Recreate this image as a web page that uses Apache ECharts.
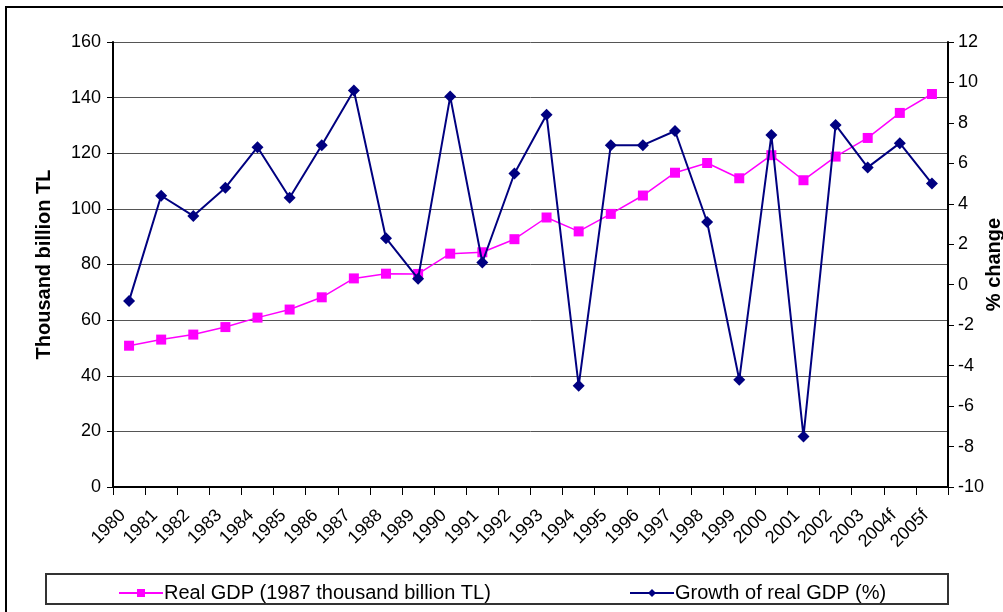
<!DOCTYPE html>
<html>
<head>
<meta charset="utf-8">
<script src="https://cdn.jsdelivr.net/npm/echarts@6/dist/echarts.min.js"></script>
<style>
  html, body { margin: 0; padding: 0; background: #fff; }
  #chart { width: 1003px; height: 612px; }
</style>
</head>
<body>
<div id="chart"></div>
<script>
var years = ['1980', '1981', '1982', '1983', '1984', '1985', '1986', '1987', '1988', '1989',
    '1990', '1991', '1992', '1993', '1994', '1995', '1996', '1997', '1998', '1999',
    '2000', '2001', '2002', '2003', '2004f', '2005f'];

// real GDP, 1987 thousand billion TL (left axis)
var realGdp = [50.8, 53.0, 54.8, 57.5, 60.9, 63.8, 68.2, 75.0, 76.7, 76.6,
    83.9, 84.4, 89.1, 96.9, 91.9, 98.2, 104.8, 113.0, 116.5, 111.0,
    119.3, 110.3, 118.8, 125.5, 134.5, 141.3];

// growth of real GDP, % (right axis)
var growth = [-0.8, 4.4, 3.4, 4.8, 6.8, 4.3, 6.9, 9.6, 2.3, 0.3,
    9.3, 1.1, 5.5, 8.4, -5.0, 6.9, 6.9, 7.6, 3.1, -4.7,
    7.4, -7.5, 7.9, 5.8, 7.0, 5.0];

var font = 'Liberation Sans, Arial, sans-serif';

var chart = echarts.init(document.getElementById('chart'), null, {renderer: 'canvas'});

chart.setOption({
    backgroundColor: '#fff',
    animation: false,
    textStyle: {fontFamily: font, color: '#000'},
    graphic: [
        {
            type: 'rect',
            shape: {x: 6, y: 7, width: 1010, height: 620},
            style: {fill: 'none', stroke: '#000', lineWidth: 2}
        },
        {
            type: 'rect',
            shape: {x: 46, y: 574, width: 902, height: 30},
            style: {fill: 'none', stroke: '#333', lineWidth: 2}
        }
    ],
    legend: [
        {
            data: ['Real GDP (1987 thousand billion TL)'],
            left: 113,
            top: 578,
            itemWidth: 44,
            itemHeight: 10,
            itemGap: 4,
            textStyle: {fontFamily: font, fontSize: 20, color: '#000', padding: [0, 0, 0, -4]}
        },
        {
            data: ['Growth of real GDP (%)'],
            left: 624,
            top: 578,
            itemWidth: 44,
            itemHeight: 10,
            textStyle: {fontFamily: font, fontSize: 20, color: '#000', padding: [0, 0, 0, -4]}
        }
    ],
    grid: {left: 113, right: 55, top: 42, bottom: 125, outerBoundsMode: 'none', containLabel: false},
    xAxis: {
        type: 'category',
        data: years,
        boundaryGap: true,
        axisLine: {lineStyle: {color: '#000', width: 2}},
        axisTick: {show: true, interval: 0, length: 8, lineStyle: {color: '#000'}},
        axisLabel: {
            interval: 0,
            rotate: 45,
            margin: 32,
            fontSize: 18,
            fontFamily: font,
            color: '#000',
            verticalAlign: 'bottom'
        }
    },
    yAxis: [
        {
            type: 'value',
            min: 0,
            max: 160,
            interval: 20,
            name: 'Thousand billion TL',
            nameLocation: 'middle',
            nameGap: 59,
            nameMoveOverlap: false,
            nameTextStyle: {fontFamily: font, fontSize: 20, fontWeight: 'bold', color: '#000'},
            axisLine: {show: true, lineStyle: {color: '#000', width: 2}},
            axisTick: {show: true, length: 6, lineStyle: {color: '#000'}},
            axisLabel: {fontSize: 18, fontFamily: font, color: '#000', margin: 12},
            splitLine: {show: true, lineStyle: {color: '#555', width: 1}}
        },
        {
            type: 'value',
            min: -10,
            max: 12,
            interval: 2,
            name: '% change',
            nameLocation: 'middle',
            nameGap: 36,
            nameMoveOverlap: false,
            nameTextStyle: {fontFamily: font, fontSize: 20, fontWeight: 'bold', color: '#000'},
            axisLine: {show: true, lineStyle: {color: '#000', width: 2}},
            axisTick: {show: true, length: 6, lineStyle: {color: '#000'}},
            axisLabel: {fontSize: 18, fontFamily: font, color: '#000', margin: 10},
            splitLine: {show: false}
        }
    ],
    series: [
        {
            name: 'Real GDP (1987 thousand billion TL)',
            type: 'line',
            yAxisIndex: 0,
            data: realGdp,
            color: '#ff00ff',
            symbol: 'rect',
            symbolSize: 10,
            lineStyle: {width: 1.5, color: '#ff00ff'},
            itemStyle: {color: '#ff00ff'},
            z: 2
        },
        {
            name: 'Growth of real GDP (%)',
            type: 'line',
            yAxisIndex: 1,
            data: growth,
            color: '#000080',
            symbol: 'diamond',
            symbolSize: 12,
            lineStyle: {width: 2, color: '#000080'},
            itemStyle: {color: '#000080'},
            z: 3
        }
    ]
});
</script>
</body>
</html>
